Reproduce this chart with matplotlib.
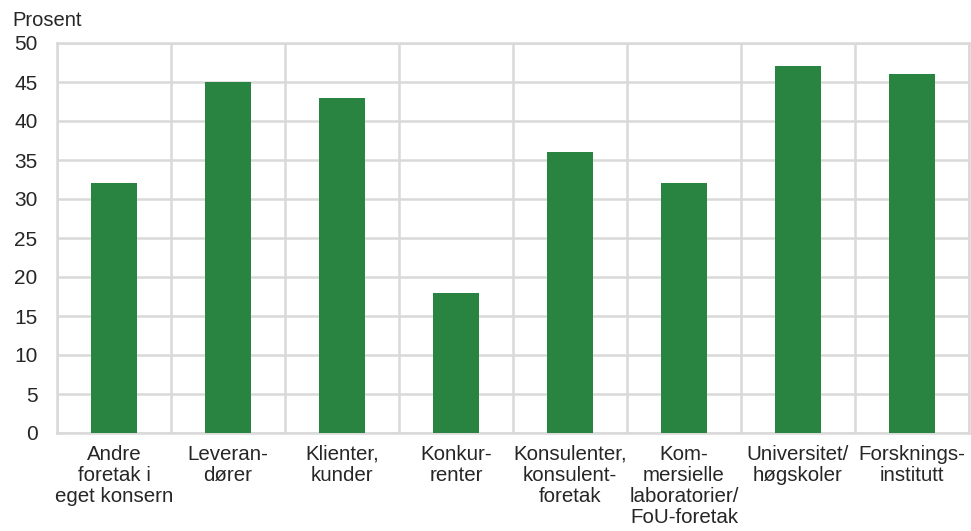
import matplotlib
matplotlib.use("Agg")
import matplotlib.pyplot as plt
import numpy as np

categories = [
    "Andre\nforetak i\neget konsern",
    "Leveran-\ndører",
    "Klienter,\nkunder",
    "Konkur-\nrenter",
    "Konsulenter,\nkonsulent-\nforetak",
    "Kom-\nmersielle\nlaboratorier/\nFoU-foretak",
    "Universitet/\nhøgskoler",
    "Forsknings-\ninstitutt",
]
values = [32, 45, 43, 18, 36, 32, 47, 46]
yticks = [0, 5, 10, 15, 20, 25, 30, 35, 40, 45, 50]

plt.rcParams["font.family"] = ["Liberation Sans", "DejaVu Sans"]

fig = plt.figure(figsize=(9.71, 5.31), dpi=100)
ax = fig.add_axes([57 / 971, 98 / 531, 912 / 971, 390 / 531])

grid_col = "#d9d9d9"
text_col = "#262626"
x = np.arange(len(categories))
ax.bar(x, values, width=0.4, color="#2a8441", zorder=3)

ax.set_xlim(-0.5, len(categories) - 0.5)
ax.set_ylim(0, 50)
ax.set_yticks(yticks)
ax.set_yticklabels([str(t) for t in yticks], fontsize=15, color=text_col)

# category boundaries as vertical gridlines
ax.set_xticks(x)
ax.set_xticklabels(categories, fontsize=14.8, color=text_col, linespacing=1.13)
ax.set_xticks(np.arange(-0.5, len(categories)), minor=True)
ax.grid(True, axis="x", which="minor", color=grid_col, linewidth=1.8, zorder=0)
ax.grid(True, axis="y", which="major", color=grid_col, linewidth=1.8, zorder=0)
ax.tick_params(axis="both", which="both", length=0)
ax.tick_params(axis="y", pad=14)
ax.tick_params(axis="x", pad=8.5)

for s in ax.spines.values():
    s.set_color(grid_col)
    s.set_linewidth(1.8)

fig.text(12 / 971, 1 - 20 / 531, "Prosent", fontsize=14.5, color=text_col,
         ha="left", va="center")

fig.savefig("out.png", dpi=100)
